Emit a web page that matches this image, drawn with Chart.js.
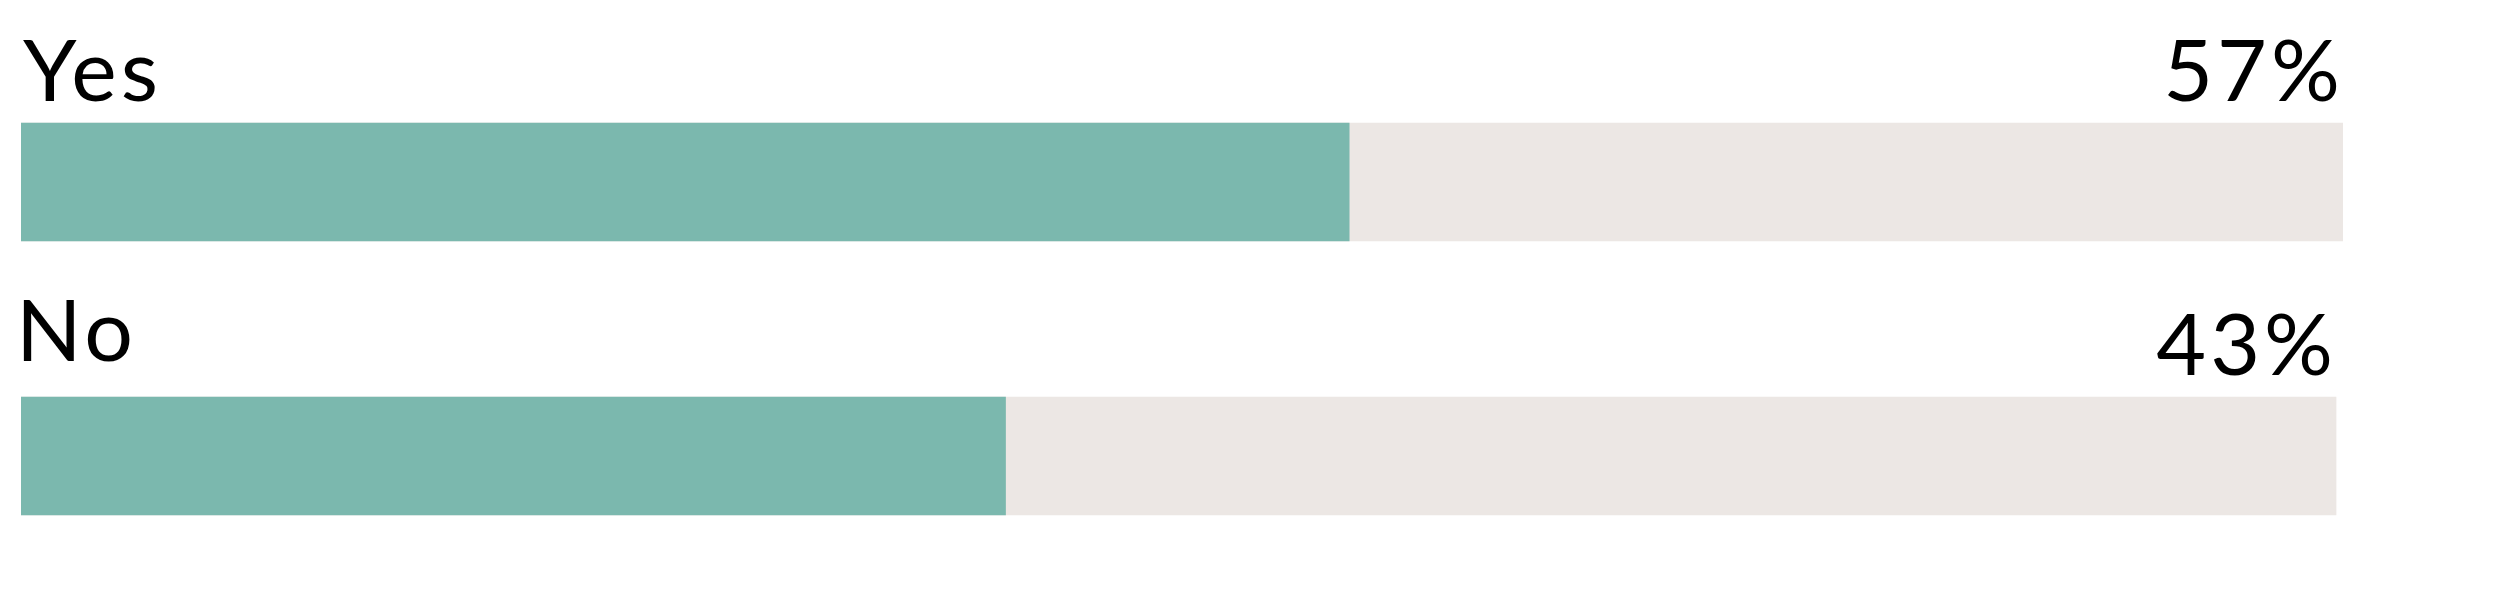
<!DOCTYPE html>
<html>
<head>
<meta charset="utf-8">
<script src="https://cdn.jsdelivr.net/npm/chart.js@4"></script>
<style>
  html, body { margin: 0; padding: 0; background: #ffffff; }
  #wrap { width: 2501px; height: 595px; position: relative; }
</style>
</head>
<body>
<div id="wrap"><canvas id="c" width="2501" height="595"></canvas></div>
<script>
// Data
const categories = ["Yes", "No"];
const shareValues = [57.2, 42.4];       // bar lengths (%)
const trackValues = [100, 99.7];        // grey background track lengths
const valueLabels = ["57%", "43%"];

const labelPlugin = {
  id: "labels",
  afterDatasetsDraw(chart, args, opts) {
    const ctx = chart.ctx;
    const y = chart.scales.y;
    const area = chart.chartArea;
    ctx.save();
    ctx.fillStyle = "#000000";
    ctx.font = opts.font;
    if ("letterSpacing" in ctx) ctx.letterSpacing = opts.spacing;
    ctx.textBaseline = "alphabetic";
    ctx.textAlign = "left";
    categories.forEach((cat, i) => {
      const top = y.getPixelForValue(i) - opts.barHalf;
      const m1 = ctx.measureText(cat);
      ctx.fillText(cat, area.left + 2 + m1.actualBoundingBoxLeft, top - opts.catGap[i]);
      const meta = chart.getDatasetMeta(1).data[i];
      const m2 = ctx.measureText(valueLabels[i]);
      ctx.fillText(valueLabels[i], meta.x - 6 - m2.actualBoundingBoxRight, top - opts.valGap[i]);
    });
    ctx.restore();
  }
};

new Chart(document.getElementById("c"), {
  type: "bar",
  data: {
    labels: categories,
    datasets: [
      { data: shareValues, backgroundColor: "#7bb8ae", barThickness: 118, grouped: false, borderWidth: 0 },
      { data: trackValues, backgroundColor: "#ece7e4", barThickness: 118, grouped: false, borderWidth: 0 }
    ]
  },
  options: {
    indexAxis: "y",
    responsive: false,
    animation: false,
    layout: { padding: { left: 21, right: 158, top: 45, bottom: 2 } },
    scales: {
      x: { display: false, min: 0, max: 100 },
      y: { display: false }
    },
    plugins: {
      legend: { display: false },
      tooltip: { enabled: false },
      labels: {
        font: "400 86px Lato",
        spacing: "4px",
        barHalf: 59,
        catGap: [22, 36],
        valGap: [22, 22]
      }
    }
  },
  plugins: [labelPlugin]
});
</script>
</body>
</html>
